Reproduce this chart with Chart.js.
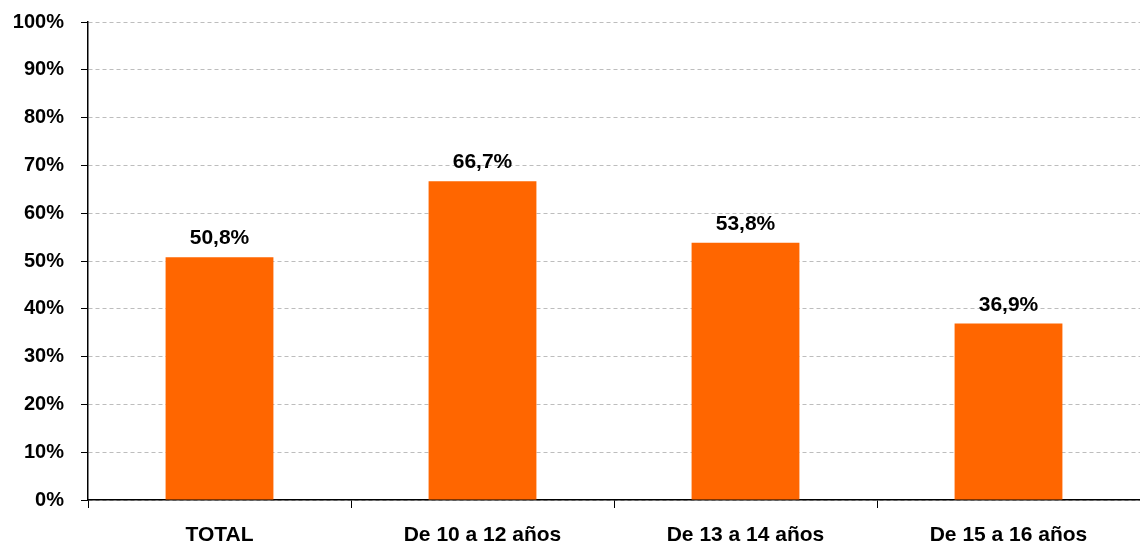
<!DOCTYPE html>
<html>
<head>
<meta charset="utf-8">
<script src="https://cdn.jsdelivr.net/npm/chart.js@4"></script>
<style>
  html, body { margin: 0; padding: 0; background: #fff; }
  #wrap { width: 1140px; height: 544px; }
</style>
</head>
<body>
<div id="wrap"><canvas id="grafico" width="1140" height="544"></canvas></div>
<script>
// categorias y valores (%)
const CATEGORIAS = ["TOTAL", "De 10 a 12 años", "De 13 a 14 años", "De 15 a 16 años"];
const VALORES = [50.8, 66.7, 53.8, 36.9];
const TICKS_Y = [0, 10, 20, 30, 40, 50, 60, 70, 80, 90, 100];

const FUENTE = "'Liberation Sans', Arial, sans-serif";

// etiqueta encima de cada barra
const etiquetasBarras = {
  id: "etiquetasBarras",
  afterDatasetsDraw(chart) {
    const ctx = chart.ctx;
    const meta = chart.getDatasetMeta(0);
    ctx.save();
    ctx.font = "bold 21px " + FUENTE;
    ctx.fillStyle = "#000";
    ctx.textAlign = "center";
    ctx.textBaseline = "alphabetic";
    meta.data.forEach((barra, i) => {
      const texto = VALORES[i].toFixed(1).replace(".", ",") + "%";
      ctx.fillText(texto, barra.x, barra.y - 13);
    });
    ctx.restore();
  },
};

new Chart(document.getElementById("grafico"), {
  type: "bar",
  data: {
    labels: CATEGORIAS,
    datasets: [
      {
        data: VALORES,
        backgroundColor: "#ff6600",
        borderWidth: 0,
        barPercentage: 0.41,
        categoryPercentage: 1,
      },
    ],
  },
  options: {
    responsive: false,
    animation: false,
    layout: { padding: { top: 22, right: 0, left: 0, bottom: 0 } },
    plugins: {
      legend: { display: false },
      tooltip: { enabled: false },
    },
    scales: {
      y: {
        min: 0,
        max: 100,
        afterBuildTicks(axis) {
          axis.ticks = TICKS_Y.map((v) => ({ value: v }));
        },
        afterFit(axis) {
          axis.width = 88;
          axis.paddingTop = 0;
          axis.paddingBottom = 0;
        },
        ticks: {
          color: "#000",
          font: { family: FUENTE, size: 20, weight: "bold" },
          padding: 17,
          callback: (v) => v + "%",
        },
        grid: {
          color: "#bdbdbd",
          tickColor: "#000",
          tickBorderDash: [],
          tickLength: 7,
          lineWidth: 1,
        },
        border: { color: "#000", width: 1.5, dash: [4, 3] },
      },
      x: {
        afterFit(axis) {
          axis.height = 44;
        },
        ticks: {
          color: "#000",
          font: { family: FUENTE, size: 21, weight: "bold" },
          padding: 15,
          maxRotation: 0,
          autoSkip: false,
        },
        grid: {
          offset: true,
          drawOnChartArea: false,
          color: "#000",
          tickLength: 8,
        },
        border: { color: "#000", width: 1.5 },
      },
    },
  },
  plugins: [etiquetasBarras],
});
</script>
</body>
</html>
